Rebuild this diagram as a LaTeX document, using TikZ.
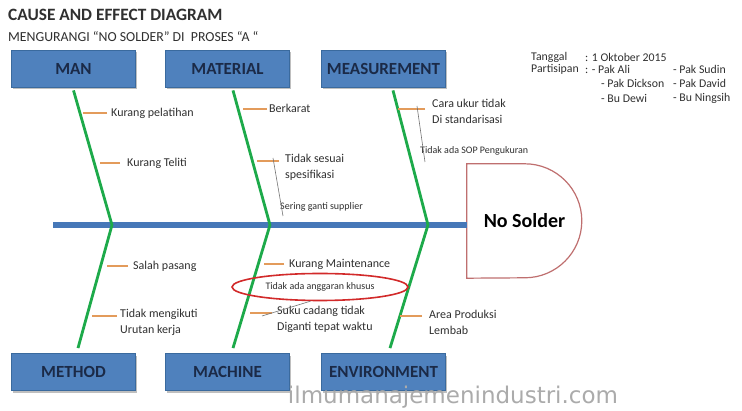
\documentclass[tikz,border=0pt]{standalone}
\usepackage{fontspec}
\setmainfont{Carlito}
\newfontfamily\markfont{DejaVu Sans}
\usetikzlibrary{shadows,shapes.geometric}

\definecolor{boxblue}{HTML}{4F81BD}
\definecolor{boxedge}{HTML}{3A6A9E}
\definecolor{navy}{HTML}{1B2A47}
\definecolor{spineblue}{HTML}{4678B8}
\definecolor{bonegreen}{HTML}{1DAA4A}
\definecolor{ribtan}{HTML}{E39B5B}
\definecolor{effectedge}{HTML}{BF6F6F}
\definecolor{ringred}{HTML}{D22A2A}
\definecolor{markgray}{HTML}{ABABAB}
\definecolor{ink}{HTML}{303030}

\tikzset{
  causebox/.style={draw=boxedge, line width=0.8, fill=boxblue,
    minimum width=124, minimum height=37, inner sep=0,
    font=\fontsize{17}{17}\selectfont\bfseries, text=navy,
    drop shadow={shadow xshift=1.5pt, shadow yshift=-2.5pt, fill=black, opacity=0.25}},
  effect/.style={minimum width=115, minimum height=114, inner sep=0,
    font=\fontsize{20}{20}\selectfont\bfseries, text=black},
  effectline/.style={draw=effectedge, line width=1.2},
  spine/.style={draw=spineblue, line width=6},
  bone/.style={draw=bonegreen, line width=2.8},
  rib/.style={draw=ribtan, line width=1.8},
  note/.style={draw=black!55, line width=0.6},
  lbl/.style={font=\fontsize{12}{16}\selectfont, text=ink, inner sep=0, align=left},
  small/.style={font=\fontsize{10}{11}\selectfont, text=ink, inner sep=0},
  info/.style={font=\fontsize{11.8}{13}\selectfont, text=ink, inner sep=0, anchor=west},
  ring/.style={ellipse, draw=ringred, line width=1.6, inner sep=0,
    minimum width=176, minimum height=27}
}

\begin{document}
\begin{tikzpicture}[x=1pt, y=-1pt]
\useasboundingbox (0,0) rectangle (742,411);
\fill[white] (0,0) rectangle (742,411);

% headings
\node[anchor=west, inner sep=0, font=\fontsize{17.3}{17}\selectfont\bfseries, text=ink] (title) at (8,15) {CAUSE AND EFFECT DIAGRAM};
\node[anchor=west, inner sep=0, font=\fontsize{13.8}{14}\selectfont, text=ink] (subtitle) at (8,37) {MENGURANGI “NO SOLDER” DI \ PROSES “A “};

% date and participants
\node[info] (tgl) at (531,57) {Tanggal};
\node[info] (tglv) at (585,57) {: 1 Oktober 2015};
\node[info] (part) at (531,69) {Partisipan};
\node[info] (p1) at (585,69) {: - Pak Ali};
\node[info] (p2) at (673,69) {- Pak Sudin};
\node[info] (p3) at (601,83) {- Pak Dickson};
\node[info] (p4) at (673,83) {- Pak David};
\node[info] (p5) at (601,98) {- Bu Dewi};
\node[info] (p6) at (673,98) {- Bu Ningsih};

% effect head
\node[effect] (effect) at (524.5,221) {No Solder};
\draw[effectline] (effect.north west) -- ++(58,0) arc (-90:90:57) -- (effect.south west) -- cycle;

% spine
\coordinate (tail) at (53,225);
\draw[spine] (tail) -- (tail -| effect.west);

% cause categories
\node[causebox] (man) at (73.5,68.5) {MAN};
\node[causebox] (material) at (227.5,68.5) {MATERIAL};
\node[causebox] (measure) at (383.5,68.5) {MEASUREMENT};
\node[causebox] (method) at (73.5,372) {METHOD};
\node[causebox] (machine) at (227.5,372) {MACHINE};
\node[causebox] (environ) at (383.5,372) {ENVIRONMENT};

% bones meeting the spine
\coordinate (jA) at (112,225);
\coordinate (jB) at (270,225);
\coordinate (jC) at (428,225);
\draw[bone] ([yshift=-3pt]man.south) -- (jA) -- ([xshift=4.5pt,yshift=5pt]method.north);
\draw[bone] ([xshift=5.5pt,yshift=-3pt]material.south) -- (jB) -- ([xshift=5.5pt,yshift=5pt]machine.north);
\draw[bone] ([xshift=9.5pt,yshift=-3pt]measure.south) -- (jC) -- ([xshift=6.5pt,yshift=5pt]environ.north);

% MAN
\node[lbl, anchor=west] (kp) at (111,113) {Kurang pelatihan};
\draw[rib] ([xshift=-4pt]kp.west) -- ++(-24,0);
\node[lbl, anchor=west] (kt) at (127,163) {Kurang Teliti};
\draw[rib] ([xshift=-7pt]kt.west) -- ++(-20,0);

% MATERIAL
\node[lbl, anchor=west] (bk) at (269,108) {Berkarat};
\draw[rib] ([xshift=-2pt,yshift=-1pt]bk.west) -- ++(-24,0);
\node[lbl, anchor=north west] (ts) at (285,154) {Tidak sesuai\\spesifikasi};
\coordinate (tsrib) at (279,161);
\draw[rib] (tsrib) -- ++(-22,0);
\node[small, anchor=west] (sg) at (280,207) {Sering ganti supplier};
\draw[note] ([xshift=-6pt,yshift=3pt]tsrib) -- ([xshift=3pt,yshift=-9pt]sg.west);

% MEASUREMENT
\node[lbl, anchor=north west] (cu) at (432,99) {Cara ukur tidak\\Di standarisasi};
\coordinate (curib) at (425,109);
\draw[rib] (curib) -- ++(-27,0);
\node[small, anchor=west] (sop) at (420,151) {Tidak ada SOP Pengukuran};
\draw[note] ([xshift=-8pt,yshift=3pt]curib) -- ([xshift=5pt,yshift=-11pt]sop.west);

% METHOD
\node[lbl, anchor=west] (sp) at (133,266) {Salah pasang};
\draw[rib] ([xshift=-5pt]sp.west) -- ++(-21,0);
\node[lbl, anchor=north west] (tm) at (120,309) {Tidak mengikuti\\Urutan kerja};
\coordinate (tmrib) at (117,316);
\draw[rib] (tmrib) -- ++(-25,0);

% MACHINE
\node[lbl, anchor=west] (km) at (289,264) {Kurang Maintenance};
\draw[rib] ([xshift=-5pt]km.west) -- ++(-20,0);
\node[ring, small] (ring) at (320,287) {Tidak ada anggaran khusus};
\node[lbl, anchor=north west] (sc) at (277,306) {Suku cadang tidak\\Diganti tepat waktu};
\coordinate (scrib) at (272,313);
\draw[rib] (scrib) -- ++(-22,0);
\draw[note] (ring.236) -- ([xshift=-10pt,yshift=-3pt]scrib);

% ENVIRONMENT
\node[lbl, anchor=north west] (ap) at (429,310) {Area Produksi\\Lembab};
\coordinate (aprib) at (422,316);
\draw[rib] (aprib) -- ++(-22,0);

% site mark
\node[font=\fontsize{23}{23}\markfont, text=markgray, inner sep=0] (site) at (453,397) {ilmumanajemenindustri.com};
\end{tikzpicture}
\end{document}
